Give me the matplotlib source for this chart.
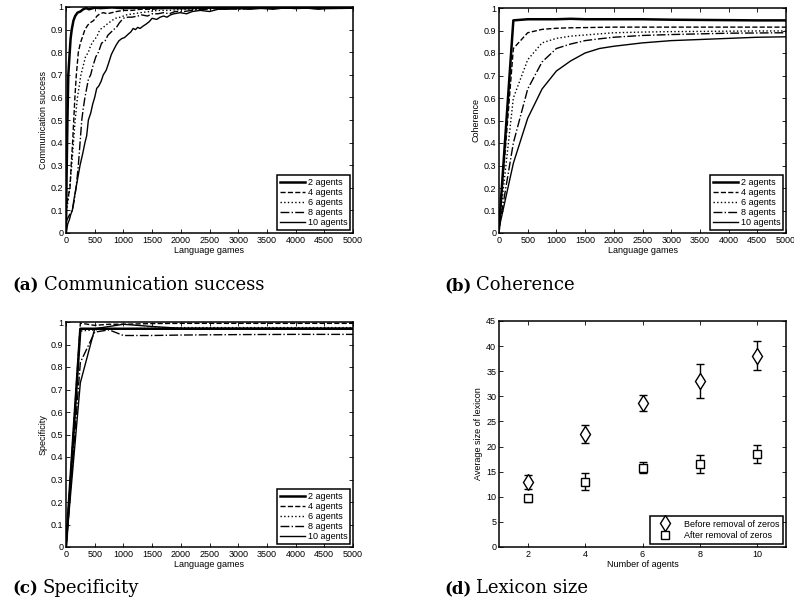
import matplotlib.pyplot as plt

plt.rcParams['font.family'] = ['Liberation Sans', 'DejaVu Sans']

AGENT_LABELS = ['2 agents', '4 agents', '6 agents', '8 agents', '10 agents']
STYLES = [('-', 1.8), ('--', 1.0), (':', 1.0), ('-.', 1.0), ('-', 1.0)]

# communication success, (games, success) per population size
success = [
    [(0, 0.0), (10, 0.25), (25, 0.5), (40, 0.7), (60, 0.78), (80, 0.86), (100, 0.9),
     (130, 0.94), (160, 0.96), (200, 0.975), (250, 0.98), (300, 0.99), (350, 0.995),
     (400, 0.99), (500, 0.997), (600, 0.995), (800, 0.998), (1000, 0.995), (1300, 0.997),
     (1600, 0.996), (2000, 0.995), (2500, 0.997), (3000, 0.995), (3500, 0.996),
     (4000, 0.998), (4500, 0.995), (5000, 0.997)],
    [(0, 0.1), (30, 0.15), (70, 0.2), (90, 0.3), (115, 0.4), (135, 0.5), (155, 0.6),
     (180, 0.7), (215, 0.8), (250, 0.84), (290, 0.87), (330, 0.9), (380, 0.92), (420, 0.93),
     (480, 0.94), (540, 0.96), (590, 0.97), (650, 0.975), (720, 0.97), (800, 0.975),
     (880, 0.98), (1000, 0.985), (1150, 0.985), (1300, 0.99), (1500, 0.99), (1800, 0.995),
     (2200, 0.993), (2600, 0.996), (3000, 0.994), (3500, 0.997), (4000, 0.995),
     (4500, 0.997), (5000, 0.996)],
    [(0, 0.08), (40, 0.15), (70, 0.22), (100, 0.3), (130, 0.4), (160, 0.5), (200, 0.6),
     (230, 0.65), (260, 0.7), (300, 0.74), (340, 0.78), (390, 0.8), (430, 0.83), (480, 0.85),
     (540, 0.87), (590, 0.9), (650, 0.91), (720, 0.925), (800, 0.94), (860, 0.95),
     (950, 0.955), (1050, 0.965), (1170, 0.97), (1300, 0.975), (1460, 0.98), (1600, 0.985),
     (1800, 0.985), (2040, 0.99), (2300, 0.99), (2600, 0.995), (3000, 0.993), (3500, 0.996),
     (4000, 0.994), (4500, 0.997), (5000, 0.995)],
    [(0, 0.05), (40, 0.07), (80, 0.09), (110, 0.1), (140, 0.14), (175, 0.2), (200, 0.26),
     (215, 0.3), (245, 0.4), (275, 0.5), (300, 0.55), (330, 0.6), (360, 0.64), (390, 0.68),
     (430, 0.7), (470, 0.74), (520, 0.78), (565, 0.8), (620, 0.84), (680, 0.85), (730, 0.875),
     (790, 0.89), (830, 0.9), (880, 0.91), (930, 0.93), (1000, 0.95), (1080, 0.955),
     (1150, 0.955), (1250, 0.96), (1320, 0.965), (1420, 0.96), (1500, 0.97), (1600, 0.97),
     (1700, 0.975), (1800, 0.97), (1900, 0.98), (2050, 0.98), (2200, 0.985), (2350, 0.99),
     (2500, 0.99), (2700, 0.995), (3000, 0.99), (3300, 0.995), (3600, 0.993), (4000, 0.996),
     (4400, 0.994), (4700, 0.997), (5000, 0.995)],
    [(0, 0.0), (30, 0.04), (60, 0.06), (80, 0.08), (110, 0.1), (140, 0.15), (175, 0.2),
     (210, 0.25), (245, 0.3), (290, 0.35), (330, 0.4), (360, 0.43), (390, 0.5), (430, 0.53),
     (465, 0.57), (500, 0.6), (535, 0.64), (570, 0.65), (610, 0.67), (650, 0.7), (700, 0.72),
     (740, 0.75), (790, 0.79), (830, 0.81), (870, 0.83), (920, 0.85), (970, 0.86),
     (1020, 0.865), (1085, 0.88), (1130, 0.89), (1170, 0.905), (1210, 0.9), (1250, 0.91),
     (1290, 0.905), (1340, 0.915), (1400, 0.925), (1450, 0.935), (1500, 0.95), (1580, 0.945),
     (1640, 0.955), (1700, 0.96), (1760, 0.955), (1820, 0.965), (1880, 0.97), (1990, 0.975),
     (2100, 0.97), (2200, 0.98), (2340, 0.985), (2500, 0.98), (2650, 0.99), (2800, 0.99),
     (3000, 0.995), (3200, 0.99), (3400, 0.995), (3600, 0.99), (3800, 0.996), (4000, 0.993),
     (4200, 0.995), (4400, 0.99), (4600, 0.996), (4800, 0.994), (5000, 0.997)],
]

# coherence, sampled every few hundred games
coh_games = [0, 250, 500, 750, 1000, 1250, 1500, 1750, 2000, 2500, 3000, 3500, 4000, 4500, 5000]
coherence = [
    [0.02, 0.945, 0.95, 0.95, 0.95, 0.952, 0.95, 0.95, 0.95, 0.95, 0.948, 0.947, 0.946, 0.945, 0.945],
    [0.02, 0.82, 0.89, 0.905, 0.91, 0.912, 0.913, 0.914, 0.915, 0.915, 0.915, 0.915, 0.915, 0.915, 0.915],
    [0.02, 0.6, 0.77, 0.845, 0.865, 0.875, 0.88, 0.885, 0.89, 0.893, 0.895, 0.896, 0.897, 0.898, 0.898],
    [0.02, 0.4, 0.64, 0.76, 0.82, 0.84, 0.855, 0.863, 0.87, 0.878, 0.882, 0.885, 0.888, 0.889, 0.89],
    [0.02, 0.31, 0.51, 0.64, 0.72, 0.765, 0.80, 0.82, 0.83, 0.845, 0.855, 0.86, 0.865, 0.87, 0.872],
]

# specificity
spec_games = [0, 250, 500, 750, 1000, 1500, 2000, 2500, 3000, 4000, 5000]
specificity = [
    [0.0, 0.97, 0.97, 0.97, 0.97, 0.97, 0.97, 0.97, 0.97, 0.97, 0.97],
    [0.0, 0.995, 0.985, 0.99, 0.99, 0.993, 0.994, 0.994, 0.994, 0.994, 0.994],
    [0.0, 0.96, 0.965, 0.97, 0.97, 0.972, 0.975, 0.975, 0.975, 0.975, 0.975],
    [0.0, 0.82, 0.955, 0.965, 0.94, 0.94, 0.942, 0.943, 0.944, 0.945, 0.945],
    [0.0, 0.73, 0.97, 0.98, 0.99, 0.98, 0.972, 0.972, 0.972, 0.972, 0.972],
]

# lexicon size
n_agents = [2, 4, 6, 8, 10]
lex_before = [12.9, 22.5, 28.6, 33.0, 38.1]
lex_before_err = [1.35, 1.8, 1.6, 3.35, 2.85]
lex_after = [9.7, 13.0, 15.8, 16.6, 18.5]
lex_after_err = [0.65, 1.65, 1.15, 1.8, 1.85]

W, H = 794, 612
fig = plt.figure(figsize=(W / 100, H / 100), dpi=100)


def axes_px(x0, y0, x1, y1):
    return fig.add_axes([x0 / W, 1 - y1 / H, (x1 - x0) / W, (y1 - y0) / H])


def style(ax):
    ax.tick_params(direction='in', top=True, right=True, labelsize=6.5,
                   length=3, width=0.6, pad=2)
    for s in ax.spines.values():
        s.set_linewidth(1.1)


def agent_axes(ax, ylabel):
    style(ax)
    ax.set_xlim(0, 5000)
    ax.set_ylim(0, 1)
    ax.set_xticks(range(0, 5001, 500))
    ax.set_yticks([i / 10 for i in range(11)])
    ax.set_yticklabels(['0'] + ['%.1f' % (i / 10) for i in range(1, 10)] + ['1'])
    ax.set_xlabel('Language games', fontsize=6.5, labelpad=1)
    ax.set_ylabel(ylabel, fontsize=6.5, labelpad=2)
    leg = ax.legend(loc='lower right', fontsize=6.5, handlelength=2.8, labelspacing=0.12,
                    borderpad=0.3, handletextpad=0.3, borderaxespad=0.35, fancybox=False,
                    edgecolor='black', framealpha=1)
    leg.get_frame().set_linewidth(1.1)


ax_a = axes_px(66, 7, 353, 233)
for pts, lab, (ls, lw) in zip(success, AGENT_LABELS, STYLES):
    ax_a.plot([p[0] for p in pts], [p[1] for p in pts], ls, color='black', lw=lw, label=lab)
agent_axes(ax_a, 'Communication success')

ax_b = axes_px(499, 8, 786, 233)
for ys, lab, (ls, lw) in zip(coherence, AGENT_LABELS, STYLES):
    ax_b.plot(coh_games, ys, ls, color='black', lw=lw, label=lab)
agent_axes(ax_b, 'Coherence')

ax_c = axes_px(66, 322, 353, 547)
for ys, lab, (ls, lw) in zip(specificity, AGENT_LABELS, STYLES):
    ax_c.plot(spec_games, ys, ls, color='black', lw=lw, label=lab)
agent_axes(ax_c, 'Specificity')

ax_d = axes_px(499, 321, 786, 547)
style(ax_d)
ax_d.errorbar(n_agents, lex_before, yerr=lex_before_err, fmt='d', ms=8, mfc='white',
              mec='black', ecolor='black', elinewidth=1.0, capsize=3, mew=1.0,
              label='Before removal of zeros')
ax_d.errorbar(n_agents, lex_after, yerr=lex_after_err, fmt='s', ms=5.5, mfc='white',
              mec='black', ecolor='black', elinewidth=1.0, capsize=3, mew=1.0,
              label='After removal of zeros')
ax_d.set_xlim(1, 11)
ax_d.set_ylim(0, 45)
ax_d.set_xticks(n_agents)
ax_d.set_yticks(range(0, 46, 5))
ax_d.set_xlabel('Number of agents', fontsize=6.5, labelpad=1)
ax_d.set_ylabel('Average size of lexicon', fontsize=6.5, labelpad=2)
handles, labels = ax_d.get_legend_handles_labels()
handles = [h[0] for h in handles]
leg = ax_d.legend(handles, labels, loc='lower right', fontsize=6.5, handlelength=2.5,
                  labelspacing=0.3, borderpad=0.4, handletextpad=0.8, borderaxespad=0.35,
                  fancybox=False, edgecolor='black', framealpha=1)
leg.get_frame().set_linewidth(1.1)

# sub-figure captions: bold tag, then the title just after it
captions = [(12, 290, '(a)', 'Communication success'),
            (444, 290, '(b)', 'Coherence'),
            (12, 593, '(c)', 'Specificity'),
            (444, 593, '(d)', 'Lexicon size')]
renderer = fig.canvas.get_renderer()
for xb, yb, tag, txt in captions:
    t = fig.text(xb / W, 1 - yb / H, tag, family='DejaVu Serif', weight='bold',
                 fontsize=12, va='baseline')
    x_end = t.get_window_extent(renderer).x1
    fig.text((x_end + 5) / W, 1 - yb / H, txt, family='DejaVu Serif', fontsize=13,
             va='baseline')

fig.savefig('out.png', dpi=100)
